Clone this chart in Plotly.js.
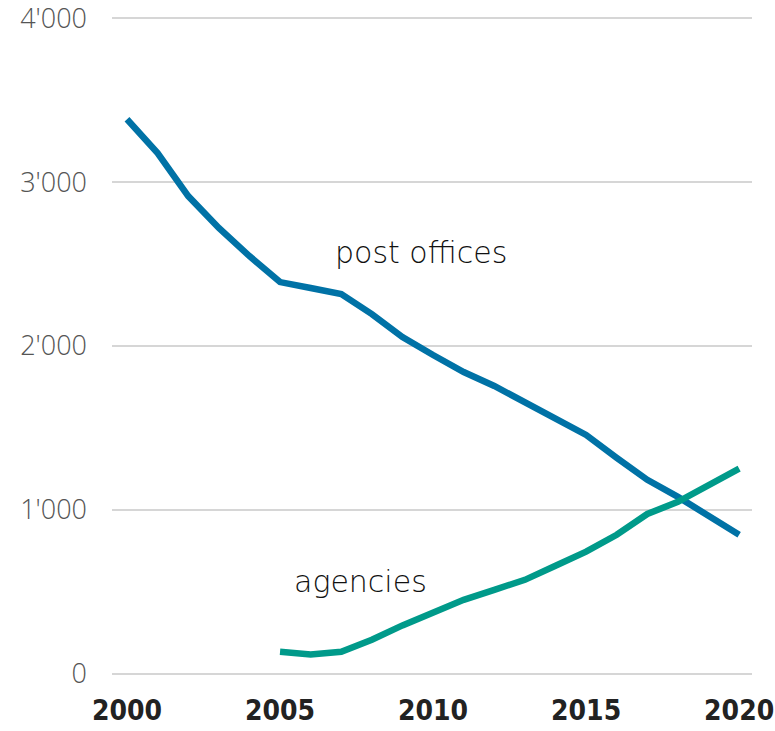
<!DOCTYPE html>
<html>
<head>
<meta charset="utf-8">
<script src="https://cdn.plot.ly/plotly-3.0.1.min.js"></script>
<style>html,body{margin:0;padding:0;background:#fff;}#chart{width:775px;height:731px;}</style>
</head>
<body>
<div id="chart"></div>
<script>
const years = [2000,2001,2002,2003,2004,2005,2006,2007,2008,2009,2010,2011,2012,2013,2014,2015,2016,2017,2018,2019,2020];
const postOffices = [3384,3177,2915,2720,2549,2390,2354,2317,2195,2055,1945,1841,1756,1659,1555,1457,1317,1183,1079,963,848];
const agencyYears = [2005,2006,2007,2008,2009,2010,2011,2012,2013,2014,2015,2016,2017,2018,2019,2020];
const agencies = [134,118,134,207,295,378,451,512,573,659,745,848,975,1049,1146,1252];
const yTicks = [0,1000,2000,3000,4000];
const yTickLabels = ["0","1'000","2'000","3'000","4'000"];
const xTicks = [2000,2005,2010,2015,2020];
const seriesLabels = ["post offices","agencies"];

const blue = '#0072a6';
const teal = '#009a8a';

const traces = [
  {x: years, y: postOffices, type:'scatter', mode:'lines', line:{color:blue, width:6.5}, hoverinfo:'skip'},
  {x: agencyYears, y: agencies, type:'scatter', mode:'lines', line:{color:teal, width:6.5}, hoverinfo:'skip'}
];

const labelFont = {family:'DejaVu Sans, Open Sans, sans-serif', size:30, color:'#111', weight:300};
const labelAnn = [
  {xref:'x', yref:'y', x:2006.73, y:2573, xanchor:'left', yanchor:'middle', text:seriesLabels[0], showarrow:false, font:labelFont},
  {xref:'x', yref:'y', x:2005.39, y:561, xanchor:'left', yanchor:'middle', text:seriesLabels[1], showarrow:false, font:labelFont}
];

const layout = {
  width: 775, height: 731,
  margin: {l: 112, r: 23, t: 15, b: 54, pad: 0},
  paper_bgcolor:'#fff', plot_bgcolor:'#fff',
  showlegend:false,
  xaxis: {
    range:[1999.51, 2020.42], tickvals: xTicks, ticktext: xTicks.map(String),
    showgrid:false, zeroline:false, showline:false, ticks:'', ticklabelstandoff: 14,
    ticklabeloverflow:'allow',
    tickfont:{family:'DejaVu Sans Condensed, Liberation Sans Narrow, sans-serif', size:28, color:'#222', weight:700},
    fixedrange:true
  },
  yaxis: {
    range:[-20,4020], tickvals: yTicks, ticktext: yTickLabels,
    showgrid:true, gridcolor:'#d6d6d6', gridwidth:2, zeroline:false, showline:false, ticks:'',
    ticklabelstandoff: 24, ticklabeloverflow:'allow',
    tickfont:{family:'Open Sans, Noto Sans, sans-serif', size:27, color:'#555', weight:300},
    fixedrange:true
  },
  annotations: labelAnn
};

Plotly.newPlot('chart', traces, layout, {displayModeBar:false, staticPlot:true});
</script>
</body>
</html>
